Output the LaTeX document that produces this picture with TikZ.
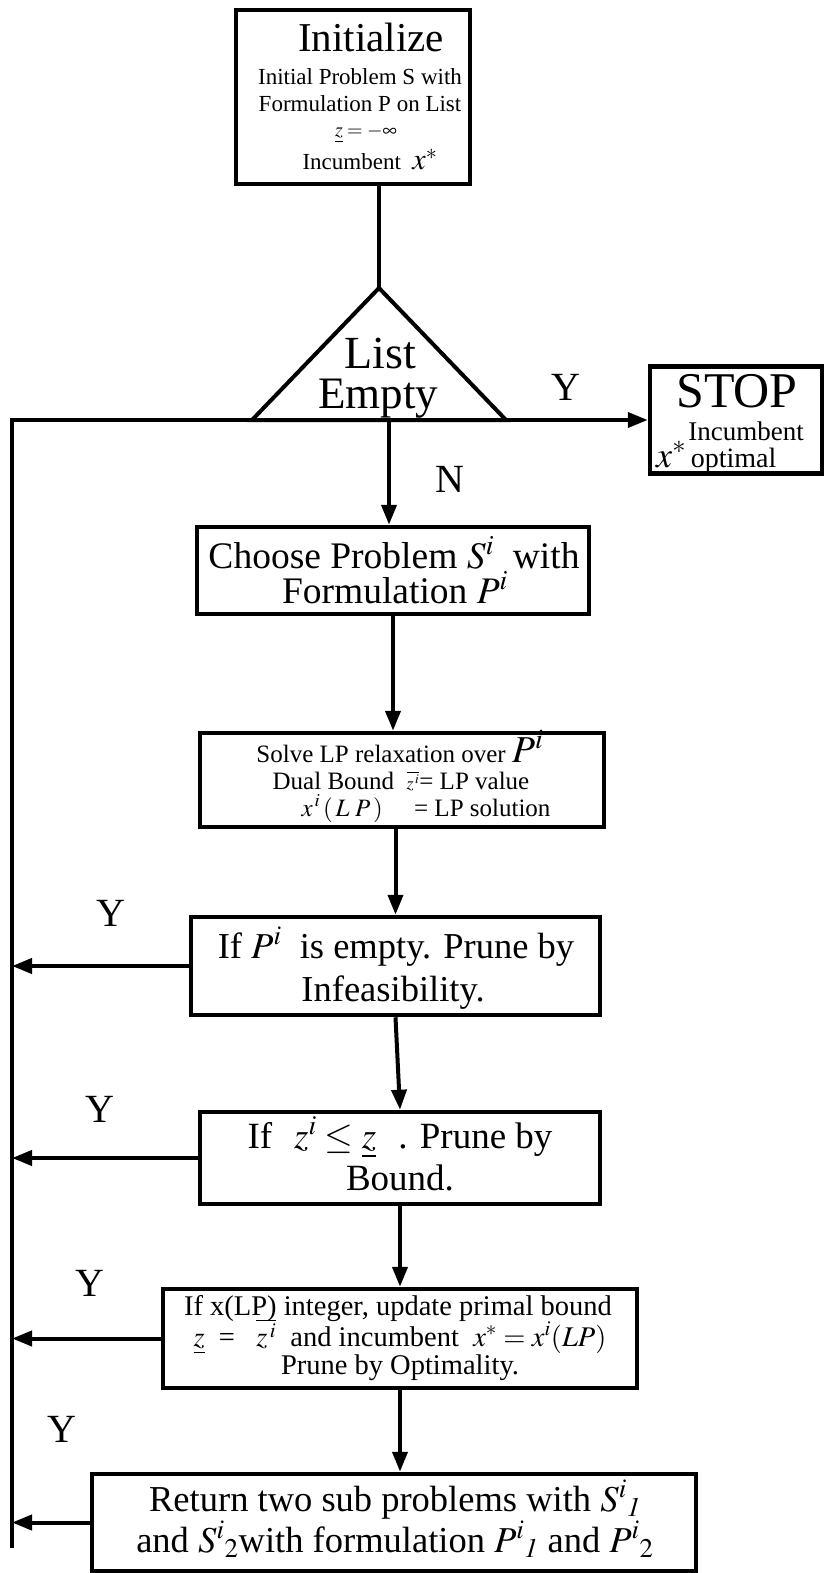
\documentclass[tikz,border=0pt]{standalone}
\usepackage{mathptmx}
\usepackage{graphicx}
\usepackage{fontspec}
\setmainfont{Liberation Serif}
\usetikzlibrary{arrows.meta}

\newcommand\fsz[1]{\fontsize{#1}{#1}\selectfont}

\tikzset{
  box/.style={draw, line width=4.5pt, inner sep=0pt},
  conn/.style={line width=4pt, line join=miter},
  arr/.style={-{Triangle[length=20pt,width=15pt]}},
  txt/.style={anchor=base, inner sep=0pt},
  lbl/.style={anchor=base, inner sep=0pt, font=\fsz{40}},
}

\begin{document}
\begin{tikzpicture}[x=1pt,y=-1pt]
\useasboundingbox (0,0) rectangle (825,1573);
\fill[white] (0,0) rectangle (825,1573);

% ---- initialisation box
\node[box, minimum width=234pt, minimum height=174pt] (init) at (353,97) {};
\node[txt, font=\fsz{41}] (init-t1) at (371,52) {Initialize};
\node[txt, font=\fsz{23}] (init-t2) at (360,85) {Initial Problem S with};
\node[txt, font=\fsz{23}] (init-t3) at (360,112) {Formulation P on List};
\node[txt, font=\fsz{20}] (init-t4) at (366,137) {$\underline{z}=-\infty$};
\node[txt, font=\fsz{23}] (init-t5) at (370,170) {Incumbent\ \ {\fsz{30}$x^{*}$}};

% ---- decision triangle
\coordinate (apex) at (379,288);
\coordinate (bl) at (252,420);
\coordinate (br) at (506,420);
\draw[conn] (apex) -- (br) -- (bl) -- cycle;
\node[txt, font=\fsz{46}] (tri-t1) at (380,368) {List};
\node[txt, font=\fsz{45}] (tri-t2) at (378,408) {Empty};
\draw[conn] (init.south -| apex) -- (apex);

% ---- stop box
\node[box, minimum width=172pt, minimum height=107pt] (stop) at (736,420) {};
\node[txt, font=\fsz{50}] (stop-t1) at (737,407) {STOP};
\node[txt, font=\fsz{27}] (stop-t2) at (746,440) {Incumbent};
\node[txt, font=\fsz{28}, anchor=base west] (stop-t3) at (656,467) {{\fsz{36}$x^{*}$}\,optimal};

% ---- return loop on the left
\coordinate (lt) at (12,420);
\coordinate (lb) at (12,1548);
\draw[conn, arr] (lb) -- (lt) -- (stop.west);
\node[lbl] (y0) at (566,400) {Y};
\node[lbl] (n0) at (450,492) {N};

% ---- choose problem
\node[box, minimum width=392pt, minimum height=87pt] (choose) at (393,570.5) {};
\node[txt, font=\fsz{37.5}] (choose-t1) at (394,568) {Choose Problem $S^{i}$\ \ with};
\node[txt, font=\fsz{37.5}] (choose-t2) at (395,603) {Formulation $P^{i}$};
\coordinate (nst) at (389,420);
\draw[conn, arr] (nst) -- (nst |- choose.north);

% ---- solve LP relaxation
\node[box, minimum width=404pt, minimum height=94pt] (solve) at (402,780) {};
\node[txt, font=\fsz{25}] (solve-t1) at (400,762) {Solve LP relaxation over {\fsz{38}$P^{i}$}};
\node[txt, font=\fsz{25}] (solve-t2) at (401,789) {Dual Bound\ \ {\fsz{18}$\overline{z^{\,i}}$}= LP value};
\node[txt, font=\fsz{25}] (solve-t3) at (426,816) {$x^{\,i}\,(\,L\;P\,)$\quad\ = LP solution};
\draw[conn, arr] (choose.south) -- (choose.south |- solve.north);

% ---- prune by infeasibility
\node[box, minimum width=409pt, minimum height=98pt] (ifp) at (395.5,966) {};
\node[txt, font=\fsz{36.5}] (ifp-t1) at (396,958) {If $P^{i}$\ \ is empty. Prune by};
\node[txt, font=\fsz{36.5}] (ifp-t2) at (393,1001) {Infeasibility.};
\draw[conn, arr] (ifp.north |- solve.south) -- (ifp.north);
\node[lbl] (y1) at (111,926) {Y};
\draw[conn, arr] (ifp.west) -- (ifp.west -| lt);

% ---- prune by bound
\node[box, minimum width=400pt, minimum height=92pt] (ifz) at (400,1158) {};
\node[txt, font=\fsz{37}] (ifz-t1) at (400,1148) {If\hspace{22pt}$z^{i}\le\underline{z}$\hspace{22pt}. Prune by};
\node[txt, font=\fsz{37}] (ifz-t2) at (400,1190) {Bound.};
\draw[conn, arr] (ifp.south) -- (ifz.north);
\node[lbl] (y2) at (100,1122) {Y};
\draw[conn, arr] (ifz.west) -- (ifz.west -| lt);

% ---- prune by optimality
\node[box, minimum width=474pt, minimum height=99pt] (ifx) at (400,1338.5) {};
\node[txt, font=\fsz{28.5}] (ifx-t1) at (398,1315) {If x(LP) integer, update primal bound};
\node[txt, font=\fsz{28.5}] (ifx-t2) at (400,1346) {$\underline{z}$\ \ =\ \ \ $\overline{z^{\,i}}$\ \ and incumbent\ \ $x^{*}=x^{i}(LP)$};
\node[txt, font=\fsz{28.5}] (ifx-t3) at (400,1374) {Prune by Optimality.};
\draw[conn, arr] (ifz.south) -- (ifx.north);
\node[lbl] (y3) at (90,1296) {Y};
\draw[conn, arr] (ifx.west) -- (ifx.west -| lt);

% ---- branching
\node[box, minimum width=604pt, minimum height=97pt] (ret) at (394,1522.5) {};
\node[txt, font=\fsz{36.5}] (ret-t1) at (395,1511) {Return two sub problems with $S^{i}{}_{\mathit{1}}$};
\node[txt, font=\fsz{36.5}] (ret-t2) at (395,1552) {and $S^{i}{}_{2}$with formulation $P^{i}{}_{\mathit{1}}$ and $P^{i}{}_{2}$};
\draw[conn, arr] (ifx.south) -- (ifx.south |- ret.north);
\node[lbl] (y4) at (62,1442) {Y};
\draw[conn, arr] (ret.west) -- (ret.west -| lt);
\end{tikzpicture}
\end{document}
